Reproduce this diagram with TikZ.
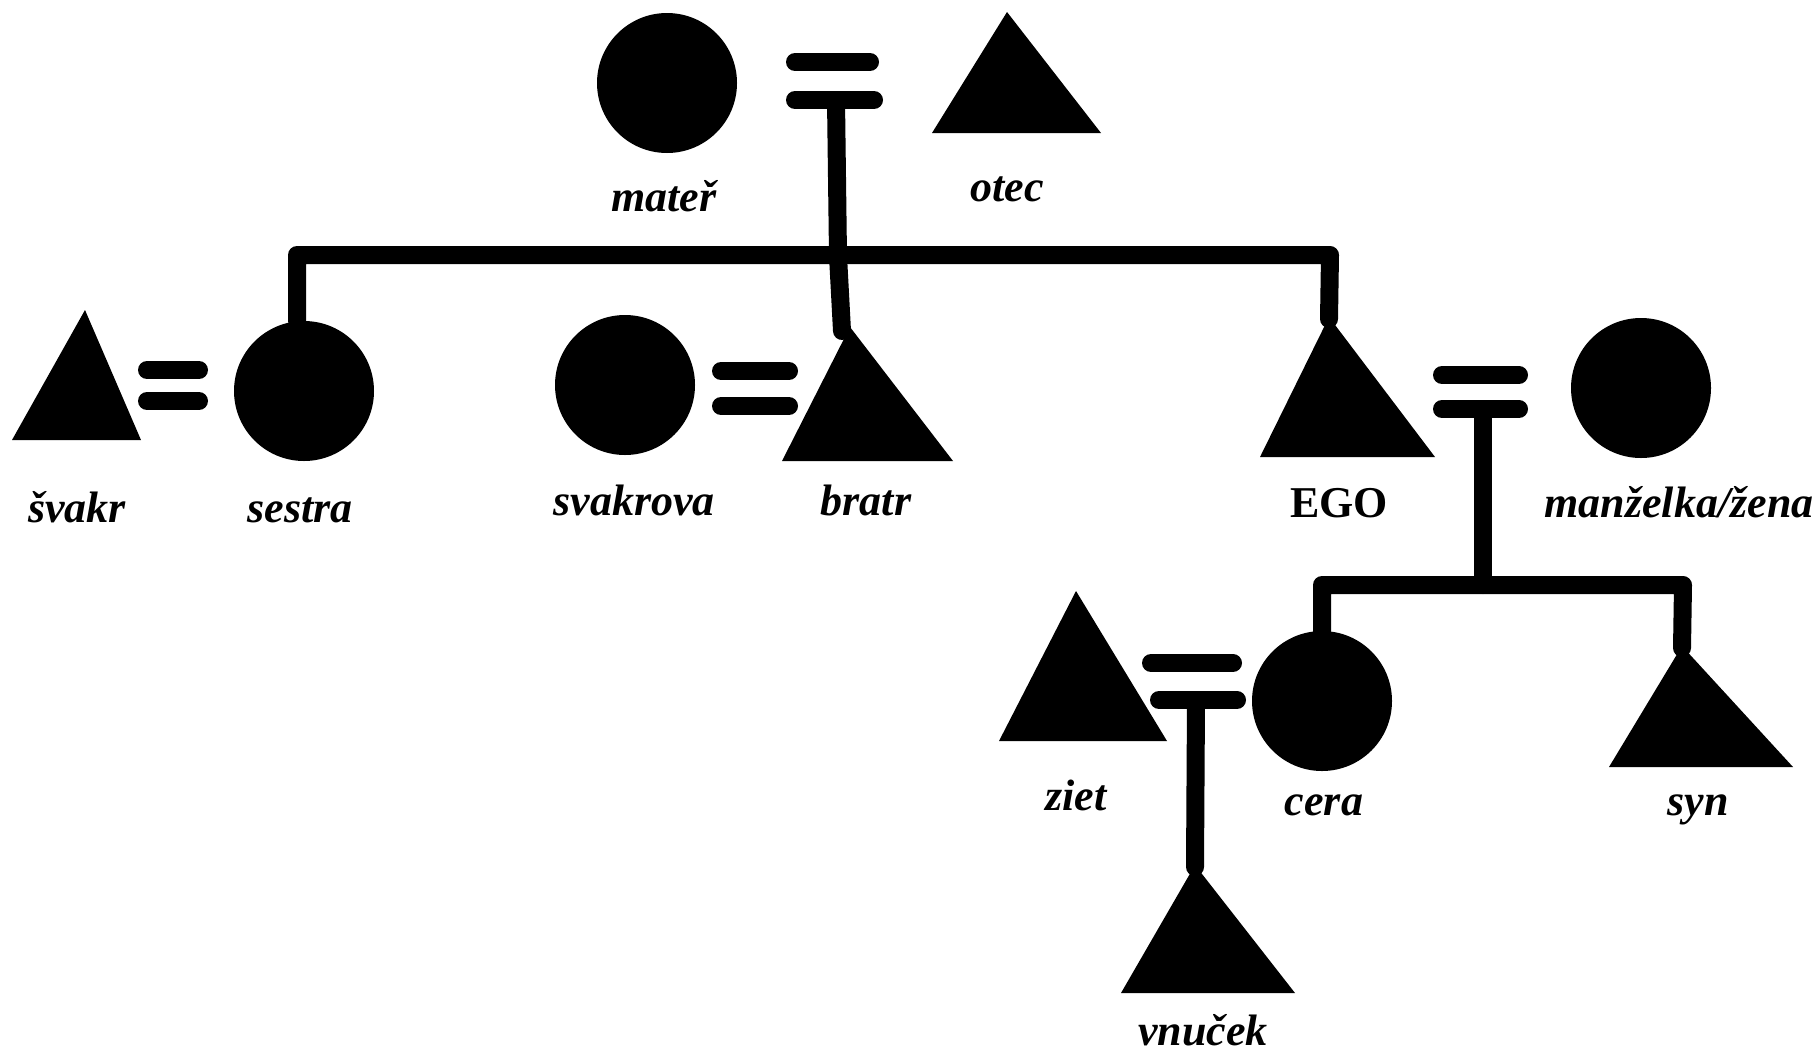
\documentclass[tikz,border=0pt]{standalone}
\usepackage{fontspec}
\setmainfont{Liberation Serif}
\begin{document}
\begin{tikzpicture}[x=1pt,y=-1pt,
  person/.style={circle,fill=black,inner sep=0pt,minimum size=140pt},
  lab/.style={anchor=base,font=\fontsize{44}{50}\selectfont\bfseries\itshape,inner sep=0pt},
  link/.style={line width=18pt,line join=round,line cap=round},
  bar/.style={line width=18pt,line cap=round}]
\fill[white] (0,0) rectangle (1820,1058);
\useasboundingbox (0,0) rectangle (1820,1058);

% circles (women)
\node[person] (mater) at (667,83) {};
\node[person] (sestra) at (304,391) {};
\node[person] (svakrova) at (625,385) {};
\node[person] (zena) at (1641,388) {};
\node[person] (cera) at (1322,701) {};

% triangles (men)
\coordinate (otec) at (1007,12);
\fill (otec) -- (932,133) -- (1101,133) -- cycle;
\coordinate (svakr) at (85,310);
\fill (svakr) -- (12,440) -- (141,440) -- cycle;
\coordinate (bratr) at (850,327);
\fill (bratr) -- (782,461) -- (953,461) -- cycle;
\coordinate (ego) at (1329,317);
\fill (ego) -- (1260,457) -- (1435,457) -- cycle;
\coordinate (ziet) at (1076,591);
\fill (ziet) -- (999,741) -- (1167,741) -- cycle;
\coordinate (syn) at (1682,646);
\fill (syn) -- (1609,767) -- (1793,767) -- cycle;
\coordinate (vnucek) at (1195,865);
\fill (vnucek) -- (1121,993) -- (1295,993) -- cycle;

% marriage bars
\draw[bar] (795,62) -- (870,62);
\draw[bar] (795,100) -- (874,100);
\draw[bar] (147,370) -- (199,370);
\draw[bar] (147,401) -- (199,401);
\draw[bar] (721,371) -- (789,371);
\draw[bar] (721,406) -- (789,406);
\draw[bar] (1442,375) -- (1519,375);
\draw[bar] (1442,409) -- (1519,409);
\draw[bar] (1151,663) -- (1233,663);
\draw[bar] (1159,700) -- (1237,700);

% descent lines
\coordinate (pm) at (836,100);
\coordinate (sib) at (1330,255);
\coordinate (em) at (1483,409);
\coordinate (kids) at (1483,585);
\coordinate (sonc) at (1683,585);
\coordinate (zm) at (1196,700);
\draw[link] (pm) -- (838,256) -- ([xshift=-8pt,yshift=-4pt]bratr);
\draw[link] ([xshift=-7pt]sestra.north) |- (sib) -- ([yshift=-2pt]ego);
\draw[link] (em) -- (kids);
\draw[link] (cera.north) |- (sonc) -- ([yshift=-2pt]syn);
\draw[link] (zm) -- ([yshift=-2pt]vnucek);

% labels
\node[lab] (lmater) at (664,211) {mateř};
\node[lab] (lotec) at (1007,201) {otec};
\node[lab] (lsvakr) at (77,522) {švakr};
\node[lab] (lsestra) at (300,522) {sestra};
\node[lab] (lsvakrova) at (634,515) {svakrova};
\node[lab] (lbratr) at (866,515) {bratr};
\node[lab,font=\fontsize{44}{50}\selectfont\bfseries] (lego) at (1339,517) {EGO};
\node[lab] (lzena) at (1679,517) {manželka/žena};
\node[lab] (lziet) at (1076,810) {ziet};
\node[lab] (lcera) at (1324,815) {cera};
\node[lab] (lsyn) at (1698,815) {syn};
\node[lab] (lvnucek) at (1203,1045) {vnuček};
\end{tikzpicture}
\end{document}
